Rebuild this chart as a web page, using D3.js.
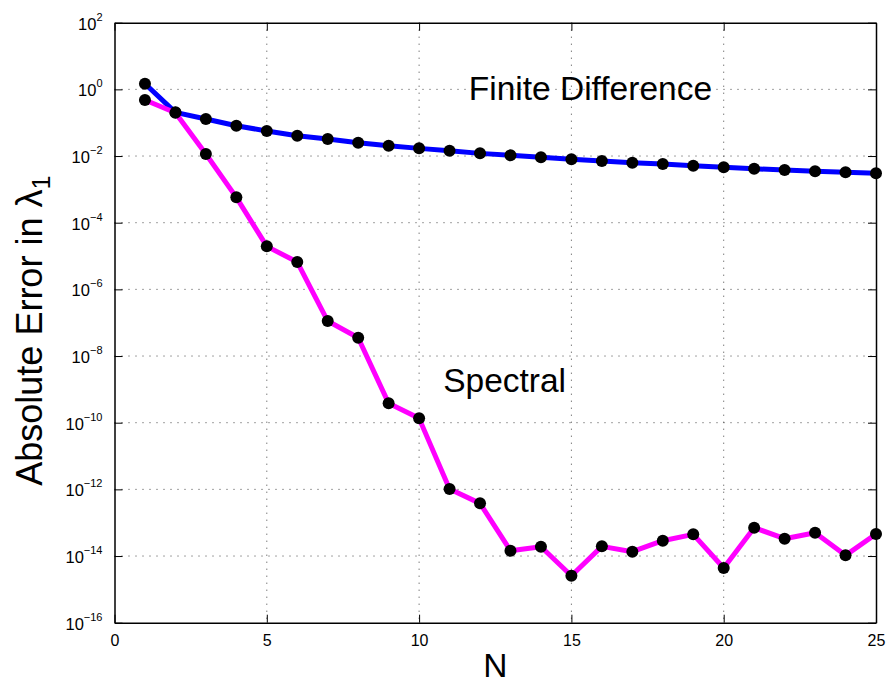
<!DOCTYPE html>
<html>
<head>
<meta charset="utf-8">
<script src="https://cdn.jsdelivr.net/npm/d3@7"></script>
<style>
  body { margin: 0; background: #fff; }
  text { font-family: "Liberation Sans", Arial, Helvetica, sans-serif; fill: #000; }
</style>
</head>
<body>
<div id="chart"></div>
<script>
// data (log10 of the absolute error)
var N = [1,2,3,4,5,6,7,8,9,10,11,12,13,14,15,16,17,18,19,20,21,22,23,24,25];
var fdLog = [0.17,-0.69,-0.89,-1.09,-1.25,-1.39,-1.49,-1.60,-1.69,-1.77,-1.84,-1.92,-1.98,-2.04,-2.10,-2.15,-2.20,-2.24,-2.29,-2.34,-2.38,-2.42,-2.46,-2.49,-2.52];
var specLog = [-0.32,-0.70,-1.94,-3.24,-4.71,-5.18,-6.95,-7.45,-9.42,-9.87,-11.99,-12.42,-13.84,-13.72,-14.59,-13.71,-13.87,-13.54,-13.35,-14.36,-13.15,-13.48,-13.30,-13.98,-13.34];
var xTicks = [0,5,10,15,20,25];
var yExps = [2,0,-2,-4,-6,-8,-10,-12,-14,-16];
var labels = [
  {text: "Finite Difference", x: 11.63, y: -0.32},
  {text: "Spectral", x: 10.79, y: -9.07}
];

var margin = { top: 22.7, right: 14, bottom: 62.3, left: 114.5 };
var width = 890 - margin.left - margin.right,
    height = 685 - margin.top - margin.bottom;

var x = d3.scaleLinear().domain([0, 25]).range([0, width]);
var y = d3.scaleLog().domain([1e-16, 1e2]).range([height, 0]);

var svg = d3.select("#chart").append("svg")
  .attr("width", 890)
  .attr("height", 685)
  .append("g")
  .attr("transform", "translate(" + margin.left + "," + margin.top + ")");

// grid
var grid = svg.append("g").attr("class", "grid")
  .attr("stroke", "#444").attr("stroke-width", 1).attr("stroke-dasharray", "1,6");
xTicks.slice(1, -1).forEach(function(t) {
  grid.append("line").attr("x1", x(t)).attr("x2", x(t)).attr("y1", 0).attr("y2", height);
});
yExps.slice(1, -1).forEach(function(e) {
  grid.append("line").attr("x1", 0).attr("x2", width).attr("y1", y(Math.pow(10, e))).attr("y2", y(Math.pow(10, e)));
});

// axes (ticks pointing in, box on all sides)
var xAxis = d3.axisBottom(x).tickValues(xTicks).tickSizeInner(-8).tickSizeOuter(0).tickPadding(12);
var gx = svg.append("g")
  .attr("transform", "translate(0," + height + ")")
  .call(xAxis);
gx.selectAll("text").style("font-size", "16px").attr("fill", "#000");

svg.append("g").call(d3.axisTop(x).tickValues(xTicks).tickSizeInner(-8).tickSizeOuter(0).tickFormat(""));

var yAxis = d3.axisLeft(y).tickValues(yExps.map(function(e) { return Math.pow(10, e); }))
  .tickSizeInner(-8).tickSizeOuter(0).tickFormat("");
var gy = svg.append("g").call(yAxis);
svg.append("g").attr("transform", "translate(" + width + ",0)")
  .call(d3.axisRight(y).tickValues(yExps.map(function(e) { return Math.pow(10, e); }))
    .tickSizeInner(-8).tickSizeOuter(0).tickFormat(""));

svg.selectAll(".domain").attr("stroke", "#000").attr("stroke-width", 1.5);
svg.selectAll(".tick line").attr("stroke", "#000");

// y tick labels as 10^e
yExps.forEach(function(e) {
  var t = svg.append("text")
    .attr("x", -12)
    .attr("y", y(Math.pow(10, e)) + 7)
    .attr("text-anchor", "end")
    .style("font-size", "16.5px");
  t.append("tspan").text("10");
  t.append("tspan").attr("dy", -9).style("font-size", "11px").text(e < 0 ? "\u2212" + (-e) : e);
});

// lines
var line = function(vals) {
  return d3.line()
    .x(function(d, i) { return x(N[i]); })
    .y(function(d) { return y(Math.pow(10, d)); })(vals);
};

var series = [
  {vals: fdLog, color: "#0000ff"},
  {vals: specLog, color: "#ff00ff"}
];

series.forEach(function(s) {
  svg.append("path")
    .attr("d", line(s.vals))
    .attr("fill", "none")
    .attr("stroke", s.color)
    .attr("stroke-width", 5)
    .attr("stroke-linejoin", "round");
  svg.selectAll(null)
    .data(s.vals)
    .enter().append("circle")
    .attr("cx", function(d, i) { return x(N[i]); })
    .attr("cy", function(d) { return y(Math.pow(10, d)); })
    .attr("r", 6)
    .attr("fill", "#000");
});

// annotations
labels.forEach(function(l) {
  svg.append("text")
    .attr("x", x(l.x))
    .attr("y", y(Math.pow(10, l.y)))
    .style("font-size", "33.5px")
    .text(l.text);
});

// axis labels
svg.append("text")
  .attr("x", width / 2)
  .attr("y", height + 54)
  .attr("text-anchor", "middle")
  .style("font-size", "33.5px")
  .text("N");

var yl = svg.append("text")
  .attr("transform", "translate(" + (-73) + "," + (height / 2 + 8) + ") rotate(-90)")
  .attr("text-anchor", "middle")
  .style("font-size", "36px");
yl.append("tspan").text("Absolute Error in \u03bb");
yl.append("tspan").attr("dy", 8).style("font-size", "25px").text("1");
</script>
</body>
</html>
